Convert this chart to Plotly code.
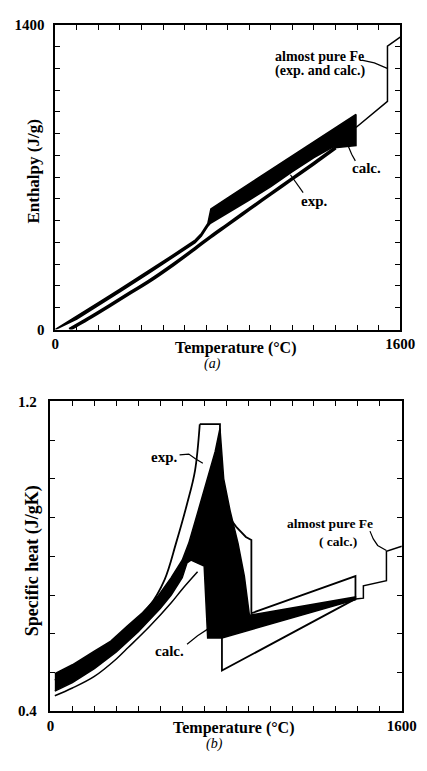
import plotly.graph_objects as go

# ---------------- Panel (a): enthalpy ----------------
calc_upper_T = [0, 100, 206, 300, 428, 550, 649, 678, 708, 722, 800, 900, 1000, 1100, 1200, 1300, 1395]
calc_upper_H = [0, 60, 127, 185, 266, 345, 411, 441, 487, 554, 605, 669, 733, 797, 861, 925, 988]
calc_lower_T = [1300, 1200, 1100, 1000, 900, 800, 720, 708, 678, 649, 550, 428, 300, 206, 100, 0]
calc_lower_H = [845, 790, 725, 657, 595, 534, 488, 475, 429, 399, 333, 254, 173, 115, 48, 0]
calc_end_T = [1395, 1395]
calc_end_H = [988, 845]

exp_T = [66, 150, 250, 350, 428, 550, 650, 722, 800, 900, 1000, 1100, 1200, 1300]
exp_H = [0, 48, 108, 170, 217, 300, 373, 427, 482, 553, 623, 693, 763, 835]

fe_a_T = [1395, 1541, 1541, 1600]
fe_a_H = [928, 1048, 1302, 1343]

# ---------------- Panel (b): specific heat ----------------
cb_upper_T = [20, 100, 200, 275, 350, 420, 492, 550, 600, 630, 673, 716, 750, 772]
cb_upper_C = [0.497, 0.52, 0.555, 0.581, 0.62, 0.655, 0.699, 0.745, 0.79, 0.834, 0.918, 1.0, 1.07, 1.13]
cb_right_T = [778, 789, 818, 854, 883, 902, 906, 1389, 1389, 781, 716, 700, 640, 622]
cb_right_C = [1.08, 1.0, 0.918, 0.834, 0.749, 0.665, 0.648, 0.695, 0.688, 0.589, 0.589, 0.775, 0.79, 0.783]
cb_lower_T = [600, 550, 500, 400, 300, 200, 100, 20]
cb_lower_C = [0.745, 0.70, 0.665, 0.605, 0.553, 0.51, 0.474, 0.452]

# experimental envelope: smooth rising branch, then the piecewise remainder
expb_rise_T = [20, 200, 350, 449, 520, 572, 622, 658, 680]
expb_rise_C = [0.48, 0.545, 0.615, 0.67, 0.74, 0.834, 0.935, 1.02, 1.141]
expb_rest_T = [680, 772, 772, 803, 846, 890, 915, 915, 1389, 1389, 781, 781]
expb_rest_C = [1.141, 1.141, 0.951, 0.909, 0.876, 0.85, 0.842, 0.653, 0.749, 0.69, 0.505, 0.589]
expb_lower_T = [20, 100, 200, 300, 355, 450, 550, 600, 670]
expb_lower_C = [0.44, 0.46, 0.49, 0.535, 0.565, 0.618, 0.68, 0.715, 0.76]

fe_b_T = [1389, 1425, 1425, 1530, 1530, 1600]
fe_b_C = [0.69, 0.692, 0.724, 0.737, 0.813, 0.826]

# ---------------- ticks ----------------
x_tickvals = list(range(0, 1601, 100))
x_ticktext = ["0"] + [""] * 15 + ["1600"]
ya_tickvals = list(range(0, 1401, 100))
ya_ticktext = ["0"] + [""] * 13 + ["1400"]
yb_tickvals = [0.4, 0.5, 0.6, 0.7, 0.8, 0.9, 1.0, 1.1, 1.2]
yb_ticktext = ["0.4", "", "", "", "", "", "", "", "1.2"]

FONT = "Liberation Serif"
# page = 8px body margin + figure; figure sized so the page is exactly 427 x 771
FW, FH, OFF = 411, 755, 8


def px(X):
    return (X - OFF) / FW


def py(Y):
    return 1 - (Y - OFF) / FH


fig = go.Figure()


def line(x, y, xa, ya, w, shape="linear"):
    fig.add_trace(go.Scatter(x=x, y=y, mode="lines", xaxis=xa, yaxis=ya,
                             line=dict(color="black", width=w, shape=shape), hoverinfo="skip",
                             showlegend=False))


def poly(x, y, xa, ya):
    fig.add_trace(go.Scatter(x=x, y=y, mode="lines", xaxis=xa, yaxis=ya, fill="toself",
                             fillcolor="black", line=dict(color="black", width=1.5),
                             hoverinfo="skip", showlegend=False))


# panel a
line(exp_T, exp_H, "x", "y", 3.5, "spline")
poly(calc_upper_T + calc_end_T + exp_T[::-1][:1] + calc_lower_T,
     calc_upper_H + calc_end_H + exp_H[::-1][:1] + calc_lower_H, "x", "y")
line(fe_a_T, fe_a_H, "x", "y", 1.5)
line([1091, 1150], [711, 629], "x", "y", 1.2)
line([1356, 1375, 1392], [850, 805, 775], "x", "y", 1.2)
line([1422, 1480, 1540], [1238, 1225, 1200], "x", "y", 1.2)

# panel b
line(expb_rise_T, expb_rise_C, "x2", "y2", 1.8, "spline")
line(expb_rest_T, expb_rest_C, "x2", "y2", 1.8)
line(expb_lower_T, expb_lower_C, "x2", "y2", 1.5, "spline")
poly(cb_upper_T + cb_right_T + cb_lower_T, cb_upper_C + cb_right_C + cb_lower_C, "x2", "y2")
line(fe_b_T, fe_b_C, "x2", "y2", 1.5)
line([588, 630, 660, 694], [1.062, 1.064, 1.052, 1.040], "x2", "y2", 1.2)
line([622, 670, 716], [0.573, 0.595, 0.612], "x2", "y2", 1.2)
line([1455, 1470, 1490, 1530], [0.865, 0.845, 0.828, 0.815], "x2", "y2", 1.2)

axis_common = dict(showline=True, linecolor="black", linewidth=1.6, mirror="allticks",
                   ticks="inside", ticklen=5, tickwidth=1.3, tickcolor="black",
                   showgrid=False, zeroline=False, ticklabeloverflow="allow",
                   tickfont=dict(family=FONT, size=15, color="black", weight="bold"))

fig.update_layout(
    width=FW, height=FH, margin=dict(l=0, r=0, t=0, b=0),
    paper_bgcolor="white", plot_bgcolor="white", showlegend=False,
    xaxis=dict(axis_common, range=[0, 1600], domain=[px(53.3), px(415)], anchor="y",
               tickmode="array", tickvals=x_tickvals, ticktext=x_ticktext),
    yaxis=dict(axis_common, range=[0, 1400], domain=[py(328.3), py(17)], anchor="x",
               tickmode="array", tickvals=ya_tickvals, ticktext=ya_ticktext,
               ticklabelstandoff=6),
    xaxis2=dict(axis_common, range=[0, 1600], domain=[px(48.3), px(416.7)], anchor="y2",
                tickmode="array", tickvals=x_tickvals, ticktext=x_ticktext),
    yaxis2=dict(axis_common, range=[0.4, 1.2], domain=[py(718.3), py(401.7)], anchor="x2",
                tickmode="array", tickvals=yb_tickvals, ticktext=yb_ticktext,
                ticklabelstandoff=9),
)


def ann(text, x, y, xref, yref, size, angle=0, italic=False, bold=True):
    fig.add_annotation(text=text, x=x, y=y, xref=xref, yref=yref, showarrow=False,
                       textangle=angle, xanchor="center", yanchor="middle",
                       font=dict(family=FONT, size=size, color="black",
                                 weight="bold" if bold else "normal",
                                 style="italic" if italic else "normal"))


ann("Temperature (°C)", px(242), py(347), "paper", "paper", 16)
ann("Enthalpy (J/g)", px(31), py(167), "paper", "paper", 17, angle=-90)
ann("(a)", px(218), py(364), "paper", "paper", 14, italic=True, bold=False)
ann("Temperature (°C)", px(240), py(735), "paper", "paper", 16)
ann("Specific heat (J/gK)", px(29), py(565), "paper", "paper", 18, angle=-90)
ann("(b)", px(220), py(752), "paper", "paper", 14, italic=True, bold=False)

ann("almost pure Fe", 1224, 1253, "x", "y", 14)
ann("(exp. and calc.)", 1231, 1187, "x", "y", 14)
ann("calc.", 1445, 741, "x", "y", 15)
ann("exp.", 1202, 591, "x", "y", 15)

ann("exp.", 521, 1.057, "x2", "y2", 15)
ann("calc.", 543, 0.556, "x2", "y2", 15)
ann("almost pure Fe", 1273, 0.884, "x2", "y2", 13.5)
ann("( calc.)", 1309, 0.838, "x2", "y2", 13.5)

fig.write_html("out.html", config={"displayModeBar": False})
